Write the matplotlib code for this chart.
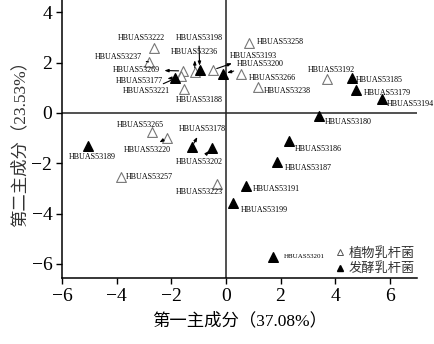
import matplotlib
matplotlib.use('Agg')
import matplotlib.pyplot as plt
from matplotlib.lines import Line2D

plt.rcParams['font.family'] = ['Liberation Serif', 'Noto Sans CJK SC']

# 植物乳杆菌 (open triangles)
plant_names = ['HBUAS53222', 'HBUAS53237', 'HBUAS53269', 'HBUAS53221', 'HBUAS53188',
               'HBUAS53236', 'HBUAS53193', 'HBUAS53258', 'HBUAS53266', 'HBUAS53238',
               'HBUAS53192', 'HBUAS53265', 'HBUAS53220', 'HBUAS53257', 'HBUAS53223']
plant_pc1 = [-2.65, -2.83, -1.58, -1.65, -1.54, -1.14, -0.48, 0.85, 0.55, 1.18,
             3.71, -2.72, -2.17, -3.86, -0.33]
plant_pc2 = [2.58, 2.03, 1.67, 1.47, 0.95, 1.63, 1.71, 2.78, 1.55, 1.03,
             1.35, -0.75, -0.99, -2.54, -2.82]

# 发酵乳杆菌 (filled triangles)
ferm_names = ['HBUAS53177', 'HBUAS53198', 'HBUAS53200', 'HBUAS53185', 'HBUAS53179',
              'HBUAS53194', 'HBUAS53180', 'HBUAS53189', 'HBUAS53178', 'HBUAS53202',
              'HBUAS53186', 'HBUAS53187', 'HBUAS53191', 'HBUAS53199', 'HBUAS53201']
ferm_pc1 = [-1.88, -0.96, -0.11, 4.60, 4.78, 5.70, 3.42, -5.04, -1.25, -0.51,
            2.32, 1.88, 0.74, 0.26, 1.73]
ferm_pc2 = [1.39, 1.71, 1.55, 1.39, 0.91, 0.56, -0.12, -1.31, -1.35, -1.39,
            -1.11, -1.95, -2.90, -3.58, -5.72]

# label placement: offset of label centre from point (data units), arrow style
label_layout = {
    'HBUAS53222': (-0.44, 0.40, None), 'HBUAS53237': (-1.10, 0.19, '-'),
    'HBUAS53269': (-1.69, 0.04, '<|-'), 'HBUAS53221': (-1.25, -0.60, '-'),
    'HBUAS53188': (0.58, -0.43, None), 'HBUAS53236': (0.0, 0.79, '<|-'),
    'HBUAS53193': (1.47, 0.55, '<|-'), 'HBUAS53258': (1.14, 0.04, None),
    'HBUAS53266': (1.14, -0.16, None), 'HBUAS53238': (1.06, -0.16, None),
    'HBUAS53192': (0.15, 0.36, None), 'HBUAS53265': (-0.41, 0.27, None),
    'HBUAS53220': (-0.70, -0.48, '<|-'), 'HBUAS53257': (1.07, 0.0, None),
    'HBUAS53223': (-0.63, -0.32, None),
    'HBUAS53177': (-1.28, -0.12, '<|-'), 'HBUAS53198': (-0.03, 1.27, '-|>'),
    'HBUAS53200': (1.36, 0.40, '-|>'), 'HBUAS53185': (1.02, -0.08, None),
    'HBUAS53179': (1.14, -0.12, None), 'HBUAS53194': (1.05, -0.20, None),
    'HBUAS53180': (1.07, -0.24, None), 'HBUAS53189': (0.15, -0.44, None),
    'HBUAS53178': (0.37, 0.71, '<|-'), 'HBUAS53202': (-0.48, -0.56, '-|>'),
    'HBUAS53186': (1.06, -0.32, None), 'HBUAS53187': (1.13, -0.24, None),
    'HBUAS53191': (1.10, -0.12, None), 'HBUAS53199': (1.14, -0.27, None),
    'HBUAS53201': (1.14, 0.0, None),
}

fig = plt.figure(figsize=(4.34, 3.44), dpi=100)
ax = fig.add_axes([0.143, 0.192, 0.818, 0.808])

ax.axhline(0, color='#222222', lw=1.1, zorder=1)
ax.axvline(0, color='#222222', lw=1.1, zorder=1)

ax.scatter(plant_pc1, plant_pc2, marker='^', s=50, facecolor='white',
           edgecolor='#777777', linewidths=0.8, zorder=3)
ax.scatter(ferm_pc1, ferm_pc2, marker='^', s=48, color='black', zorder=3)

for names, xs, ys in [(plant_names, plant_pc1, plant_pc2), (ferm_names, ferm_pc1, ferm_pc2)]:
    for name, x, y in zip(names, xs, ys):
        dx, dy, arrow = label_layout[name]
        fs = 5.0 if name == 'HBUAS53201' else 5.8
        props = None
        if arrow is not None:
            props = dict(arrowstyle=arrow + (',head_length=0.4,head_width=0.15' if arrow != '-' else ''),
                         color='black', lw=0.8, shrinkA=1, shrinkB=3)
        ax.annotate(name, xy=(x, y), xytext=(x + dx, y + dy), textcoords='data',
                    fontsize=fs, ha='center', va='center', arrowprops=props,
                    annotation_clip=False, zorder=4)

ax.set_xlim(-6, 7)
ax.set_ylim(-6.56, 4.49)
ax.set_xticks([-6, -4, -2, 0, 2, 4, 6])
ax.set_yticks([-6, -4, -2, 0, 2, 4])
ax.tick_params(direction='out', length=4, width=1, labelsize=14, pad=3)
for side in ['top', 'right']:
    ax.spines[side].set_visible(False)
for side in ['left', 'bottom']:
    ax.spines[side].set_linewidth(1.1)

ax.set_xlabel('第一主成分（37.08%）', fontsize=12.5, labelpad=6)
ax.set_ylabel('第二主成分（23.53%）', fontsize=12.5, labelpad=2, color='#333333')

handles = [
    Line2D([], [], marker='^', ls='', markersize=5, markerfacecolor='white',
           markeredgecolor='#555555', markeredgewidth=0.7, label='植物乳杆菌'),
    Line2D([], [], marker='^', ls='', markersize=5, color='black', label='发酵乳杆菌'),
]
leg = ax.legend(handles=handles, loc='upper right', bbox_to_anchor=(1.015, 0.14),
                frameon=False, fontsize=9.5, handlelength=0.6, handletextpad=0.3,
                labelspacing=0.2, borderpad=0.1)
for t in leg.get_texts():
    t.set_color('#333333')

fig.savefig('out.png', dpi=100)
